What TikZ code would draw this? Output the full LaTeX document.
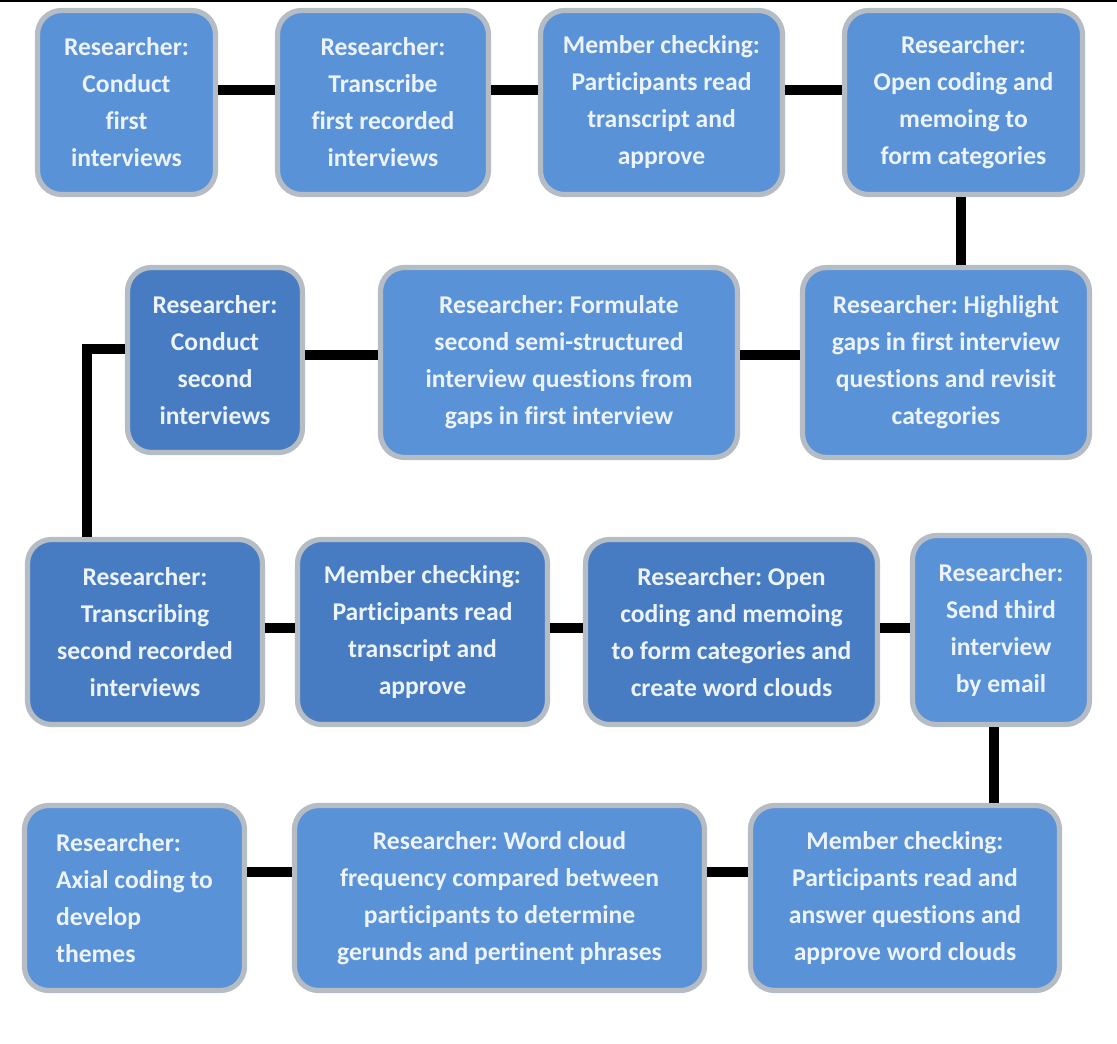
\documentclass[tikz,border=0pt]{standalone}
\usepackage{fontspec}
\setmainfont{Carlito}[Ligatures=NoCommon]
\usepackage{tikz}
\usetikzlibrary{calc}
\usepackage{xcolor}
\frenchspacing

\begin{document}
\begin{tikzpicture}[x=0.5pt,y=-0.5pt,
  etape/.style={draw=grisA, line width=2.6pt, rounded corners=12pt, fill=bleuA,
    text=blancA, font=\bfseries\fontsize{12.8}{18.5}\selectfont,
    align=center, inner sep=0pt},
  etapesombre/.style={etape, fill=bleuB},
  lien/.style={line width=5pt, black}]

% Couleurs
\definecolor{bleuA}{RGB}{90,146,216}
\definecolor{bleuB}{RGB}{72,124,194}
\definecolor{grisA}{RGB}{182,188,196}
\definecolor{blancA}{RGB}{236,243,252}

\useasboundingbox (0,0) rectangle (1117,1043);
\draw[line width=1pt] (0,1) -- (1117,1);

% Rangee 1
\node[etape, minimum width=89pt, minimum height=92pt] (conduct1) at (126.5,102.5)
  {Researcher:\\Conduct\\first\\interviews};
\node[etape, minimum width=105.5pt, minimum height=92pt] (transcribe1) at (383,102.5)
  {Researcher:\\Transcribe\\first recorded\\interviews};
\node[etape, minimum width=121pt, minimum height=92pt] (member1) at (661.5,102.5)
  {Member checking:\\Participants read\\transcript and\\approve};
\node[etape, minimum width=119pt, minimum height=92pt] (open1) at (963.5,102.5)
  {Researcher:\\Open coding and\\memoing to\\form categories};

% Rangee 2
\node[etape, minimum width=143.5pt, minimum height=95pt] (gaps) at (946,362.5)
  {Researcher: Highlight\\gaps in first interview\\questions and revisit\\categories};
\node[etape, minimum width=178.5pt, minimum height=95pt] (formulate) at (559,362.5)
  {Researcher: Formulate\\second semi-structured\\interview questions from\\gaps in first interview};
\node[etapesombre, minimum width=87.5pt, minimum height=92.5pt] (conduct2) at (215,360)
  {Researcher:\\Conduct\\second\\interviews};

% Rangee 3
\node[etapesombre, minimum width=117.5pt, minimum height=92.5pt] (transcribe2) at (145,632)
  {Researcher:\\Transcribing\\second recorded\\interviews};
\node[etapesombre, minimum width=125pt, minimum height=92.5pt] (member2) at (422.5,632)
  {Member checking:\\Participants read\\transcript and\\approve};
\node[etapesombre, minimum width=146pt, minimum height=92.5pt] (open2) at (731.5,632)
  {Researcher: Open\\coding and memoing\\to form categories and\\create word clouds};
\node[etape, minimum width=88.5pt, minimum height=94.5pt] (email3) at (1001,630)
  {Researcher:\\Send third\\interview\\by email};

% Rangee 4
\node[etape, minimum width=154.5pt, minimum height=92.5pt] (member3) at (905,898)
  {Member checking:\\Participants read and\\answer questions and\\approve word clouds};
\node[etape, minimum width=205pt, minimum height=92.5pt] (wordcloud) at (499.5,898)
  {Researcher: Word cloud\\frequency compared between\\participants to determine\\gerunds and pertinent phrases};
\node[etape, align=left, minimum width=110pt, minimum height=92.5pt] (axial) at (134.5,898)
  {Researcher:\\Axial coding to\\develop\\themes};

% Reperes des liens
\coordinate (r1) at (0,90);
\coordinate (r2) at (0,355);
\coordinate (r2b) at (0,349);
\coordinate (r3) at (0,628);
\coordinate (r4) at (0,872);
\coordinate (c1) at (961,0);
\coordinate (c2) at (87,0);
\coordinate (c3) at (994,0);

% Liens
\draw[lien] (conduct1.east |- r1) -- (transcribe1.west |- r1);
\draw[lien] (transcribe1.east |- r1) -- (member1.west |- r1);
\draw[lien] (member1.east |- r1) -- (open1.west |- r1);
\draw[lien] (open1.south -| c1) -- (gaps.north -| c1);
\draw[lien] (gaps.west |- r2) -- (formulate.east |- r2);
\draw[lien] (formulate.west |- r2) -- (conduct2.east |- r2);
\draw[lien] (conduct2.west |- r2b) -| (transcribe2.north -| c2);
\draw[lien] (transcribe2.east |- r3) -- (member2.west |- r3);
\draw[lien] (member2.east |- r3) -- (open2.west |- r3);
\draw[lien] (open2.east |- r3) -- (email3.west |- r3);
\draw[lien] (email3.south -| c3) -- (member3.north -| c3);
\draw[lien] (member3.west |- r4) -- (wordcloud.east |- r4);
\draw[lien] (wordcloud.west |- r4) -- (axial.east |- r4);

\end{tikzpicture}
\end{document}
